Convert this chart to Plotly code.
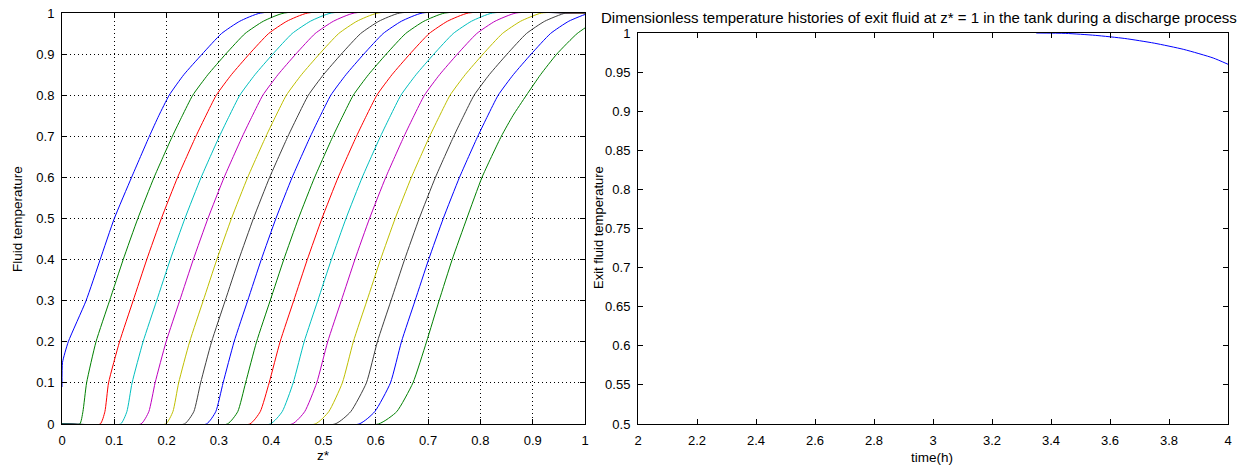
import plotly.graph_objects as go

# ---------------- data: left panel (fluid temperature profiles) ----------------
# temperature levels shared by curves 2..16
temp_levels = [0, 0, 0.03, 0.1, 0.2, 0.3, 0.4, 0.5, 0.6, 0.7, 0.75, 0.8, 0.85, 0.9, 0.95, 0.98, 1, 1]

# curve 1 starts at z*=0 with a nonzero value
z01 = [0, 0.001, 0.012, 0.046, 0.073, 0.100, 0.133, 0.167, 0.185, 0.205, 0.233, 0.268, 0.305, 0.340, 0.380, 1.0]
t01 = [0.09, 0.15, 0.2, 0.3, 0.4, 0.5, 0.6, 0.7, 0.75, 0.8, 0.85, 0.9, 0.95, 0.98, 1.0, 1.0]

z02 = [0, 0.034, 0.040, 0.047, 0.065, 0.091, 0.117, 0.145, 0.176, 0.211, 0.230, 0.250, 0.279, 0.313, 0.350, 0.385, 0.425, 1.0]
z03 = [0, 0.073, 0.082, 0.089, 0.110, 0.136, 0.162, 0.190, 0.221, 0.256, 0.275, 0.295, 0.324, 0.358, 0.395, 0.430, 0.470, 1.0]
z04 = [0, 0.112, 0.124, 0.134, 0.155, 0.181, 0.207, 0.235, 0.266, 0.301, 0.320, 0.340, 0.369, 0.403, 0.440, 0.475, 0.515, 1.0]
z05 = [0, 0.151, 0.166, 0.178, 0.199, 0.225, 0.251, 0.279, 0.310, 0.345, 0.364, 0.384, 0.413, 0.447, 0.484, 0.519, 0.559, 1.0]
z06 = [0, 0.198, 0.212, 0.223, 0.244, 0.270, 0.296, 0.324, 0.355, 0.390, 0.409, 0.429, 0.458, 0.492, 0.529, 0.564, 0.604, 1.0]
z07 = [0, 0.234, 0.252, 0.265, 0.286, 0.312, 0.338, 0.366, 0.397, 0.432, 0.451, 0.471, 0.500, 0.534, 0.571, 0.606, 0.646, 1.0]
z08 = [0, 0.276, 0.294, 0.308, 0.329, 0.355, 0.381, 0.409, 0.440, 0.475, 0.494, 0.514, 0.543, 0.577, 0.614, 0.649, 0.689, 1.0]
z09 = [0, 0.316, 0.336, 0.351, 0.372, 0.398, 0.424, 0.452, 0.483, 0.518, 0.537, 0.557, 0.586, 0.620, 0.657, 0.692, 0.732, 1.0]
z10 = [0, 0.359, 0.379, 0.396, 0.417, 0.443, 0.469, 0.497, 0.528, 0.563, 0.582, 0.602, 0.631, 0.665, 0.702, 0.737, 0.777, 1.0]
z11 = [0, 0.398, 0.421, 0.442, 0.463, 0.489, 0.515, 0.543, 0.574, 0.609, 0.628, 0.648, 0.677, 0.711, 0.748, 0.783, 0.823, 1.0]
z12 = [0, 0.440, 0.464, 0.487, 0.508, 0.534, 0.560, 0.588, 0.619, 0.654, 0.673, 0.693, 0.722, 0.756, 0.793, 0.828, 0.868, 1.0]
z13 = [0, 0.484, 0.510, 0.536, 0.557, 0.583, 0.609, 0.637, 0.668, 0.703, 0.722, 0.742, 0.771, 0.805, 0.842, 0.877, 0.917, 1.0]
z14 = [0, 0.522, 0.552, 0.582, 0.603, 0.629, 0.655, 0.683, 0.714, 0.749, 0.768, 0.788, 0.817, 0.851, 0.888, 0.923, 0.963, 1.0]
z15 = [0, 0.568, 0.598, 0.628, 0.649, 0.675, 0.701, 0.729, 0.760, 0.795, 0.814, 0.834, 0.863, 0.897, 0.934, 0.969, 1.009, 1.05]
z16 = [0, 0.605, 0.640, 0.671, 0.697, 0.721, 0.746, 0.774, 0.803, 0.840, 0.862, 0.888, 0.915, 0.946, 0.985, 1.020, 1.060, 1.10]

curves = [z02, z03, z04, z05, z06, z07, z08, z09, z10, z11, z12, z13, z14, z15, z16]

matlab_colors = ["#0000FF", "#008000", "#FF0000", "#00BFBF", "#BF00BF", "#BFBF00", "#404040"]

# ---------------- data: right panel (exit fluid temperature) ----------------
time_h = [3.35, 3.45, 3.55, 3.65, 3.75, 3.85, 3.95, 4.0]
exit_temp = [1.0, 0.9995, 0.997, 0.993, 0.987, 0.979, 0.968, 0.960]

left_xticks = [0, 0.1, 0.2, 0.3, 0.4, 0.5, 0.6, 0.7, 0.8, 0.9, 1]
left_yticks = [0, 0.1, 0.2, 0.3, 0.4, 0.5, 0.6, 0.7, 0.8, 0.9, 1]
right_xticks = [2, 2.2, 2.4, 2.6, 2.8, 3, 3.2, 3.4, 3.6, 3.8, 4]
right_yticks = [0.5, 0.55, 0.6, 0.65, 0.7, 0.75, 0.8, 0.85, 0.9, 0.95, 1]

W, H = 1244, 470
FONT = "Liberation Sans, Arial, sans-serif"

fig = go.Figure()

fig.add_trace(go.Scatter(x=z01, y=t01, mode="lines",
                         line=dict(color=matlab_colors[0], width=1, shape="spline", smoothing=0.5),
                         xaxis="x", yaxis="y", showlegend=False, hoverinfo="skip"))
for i, zc in enumerate(curves, start=1):
    fig.add_trace(go.Scatter(x=zc, y=temp_levels, mode="lines",
                             line=dict(color=matlab_colors[i % 7], width=1, shape="spline", smoothing=0.5),
                             xaxis="x", yaxis="y", showlegend=False, hoverinfo="skip"))

fig.add_trace(go.Scatter(x=time_h, y=exit_temp, mode="lines",
                         line=dict(color="#0000FF", width=1, shape="spline", smoothing=0.6),
                         xaxis="x2", yaxis="y2", showlegend=False, hoverinfo="skip"))

def px_x(p):
    return p / W

def px_y(p):
    return 1 - p / H

axis_common = dict(showline=True, linecolor="black", linewidth=1, mirror="ticks",
                   ticks="inside", ticklen=5, tickcolor="black", zeroline=False,
                   automargin=False, ticklabelstandoff=4,
                   tickfont=dict(family=FONT, size=13, color="black"))

fig.update_layout(
    template="none",
    width=W, height=H,
    margin=dict(l=0, r=0, t=0, b=0, pad=0),
    paper_bgcolor="white", plot_bgcolor="white",
    xaxis=dict(domain=[px_x(62), px_x(585)], range=[0, 1], tickvals=left_xticks,
               showgrid=True, gridcolor="black", gridwidth=1, griddash="1px,3px",
               anchor="y", **axis_common),
    yaxis=dict(domain=[px_y(424), px_y(13)], range=[0, 1], tickvals=left_yticks,
               showgrid=True, gridcolor="black", gridwidth=1, griddash="1px,3px",
               anchor="x", **axis_common),
    xaxis2=dict(domain=[px_x(638), px_x(1228)], range=[2, 4], tickvals=right_xticks,
                showgrid=False, anchor="y2", **axis_common),
    yaxis2=dict(domain=[px_y(424), px_y(33)], range=[0.5, 1], tickvals=right_yticks,
                showgrid=False, anchor="x2", **axis_common),
)

ann_font = dict(family=FONT, size=13.5, color="black")
common_ann = dict(xref="paper", yref="paper", showarrow=False, xanchor="center", yanchor="middle")
fig.add_annotation(text="Fluid temperature", x=px_x(18), y=px_y(219), textangle=-90,
                   font=ann_font, **common_ann)
fig.add_annotation(text="z*", x=px_x(323), y=px_y(455), font=ann_font, **common_ann)
fig.add_annotation(text="Exit fluid temperature", x=px_x(598), y=px_y(228), textangle=-90,
                   font=dict(family=FONT, size=13, color="black"), **common_ann)
fig.add_annotation(text="time(h)", x=px_x(932), y=px_y(457), font=ann_font, **common_ann)
fig.add_annotation(text="Dimensionless temperature histories of exit fluid at z* = 1 in the tank during a discharge process",
                   x=px_x(919), y=px_y(18), font=dict(family=FONT, size=15, color="black"),
                   **common_ann)

fig.write_html("out.html")
